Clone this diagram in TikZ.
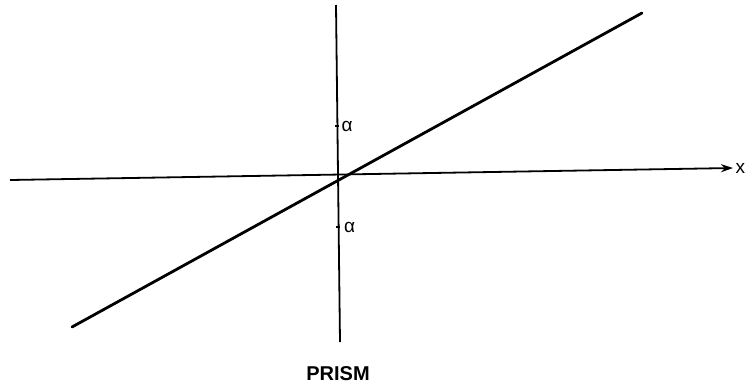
\documentclass[tikz,border=0pt]{standalone}
\usepackage{fontspec}
\setmainfont{Liberation Sans}
\usetikzlibrary{arrows.meta,positioning,calc}

\begin{document}
\begin{tikzpicture}[
  x=1pt, y=-1pt,
  axis/.style={line width=1.8pt, black},
  ray/.style={line width=2.8pt, black},
  tickmark/.style={line width=1.8pt},
  lbl/.style={font=\fontsize{19}{22}\selectfont, inner sep=0pt, anchor=west},
  title/.style={font=\fontsize{20}{24}\selectfont\bfseries, inner sep=0pt},
  >={Stealth[length=12pt,width=8pt]}
]
  \useasboundingbox (0,0) rectangle (745,389);

  % axes
  \coordinate (xl) at (10,180);
  \coordinate (xr) at (733,168);
  \coordinate (vt) at (336,5);
  \coordinate (vb) at (340,342);
  \draw[axis, ->] (xl) -- (xr);
  \draw[axis] (vt) -- (vb);
  \node[lbl] (xlab) at (735.5,168) {x};

  % ray through the origin
  \coordinate (dl) at (72,327);
  \coordinate (dr) at (642,13);
  \draw[ray, line cap=round] (dl) -- (dr);

  % angle marks
  \coordinate (t1) at (336.5,126);
  \coordinate (t2) at (338,227);
  \draw[tickmark] ($(t1)+(-2,0)$) -- ($(t1)+(2,0)$);
  \draw[tickmark] ($(t2)+(-2,0)$) -- ($(t2)+(2,0)$);
  \node[lbl, right=5pt of t1] (a1) {α};
  \node[lbl, right=6pt of t2] (a2) {α};

  \node[title] (prism) at (338,374) {PRISM};
\end{tikzpicture}
\end{document}
